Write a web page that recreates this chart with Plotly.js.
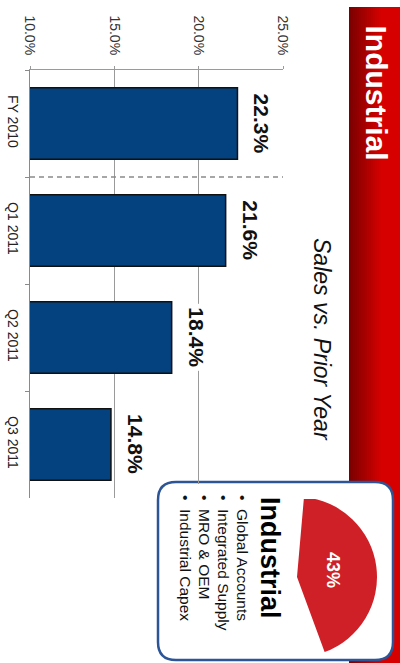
<!DOCTYPE html>
<html>
<head>
<meta charset="utf-8">
<script src="https://cdn.plot.ly/plotly-3.0.1.min.js"></script>
<style>
  html, body { margin: 0; padding: 0; background: #ffffff; }
  #chart { width: 400px; height: 663px; }
</style>
</head>
<body>
<div id="chart"></div>
<script>
// ---- data ----
const categories = ['FY 2010', 'Q1 2011', 'Q2 2011', 'Q3 2011'];
const salesGrowth = [22.3, 21.6, 18.4, 14.8];
const tickVals = [10, 15, 20, 25];
const tickText = ['10.0%', '15.0%', '20.0%', '25.0%'];
const mixLabels = ['Industrial', 'Other segments'];
const mixShare = [43, 57];
const segmentItems = ['Global Accounts', 'Integrated Supply', 'MRO & OEM', 'Industrial Capex'];
const panelTitle = 'Industrial';
const chartTitle = 'Sales vs. Prior Year';

// ---- page geometry helpers (pixels -> paper) ----
const W = 400, H = 663;
const px = v => v / W;
const py = v => 1 - v / H;

const FONT = 'Liberation Sans, Arial, sans-serif';

const shapes = [];
// red title band with horizontal gradient
const bandL = 349, bandFull = 381, bandR = 400, bandT = 7, bandB = 663;
const c0 = [122, 0, 0], c1 = [214, 0, 0];
const steps = 16;
for (let i = 0; i < steps; i++) {
  const x0 = bandL + (bandFull - bandL) * i / steps;
  const x1 = bandL + (bandFull - bandL) * (i + 1) / steps + 0.6;
  const t = (i + 0.5) / steps;
  const col = 'rgb(' + c0.map((c, k) => Math.round(c + (c1[k] - c) * t)).join(',') + ')';
  shapes.push({type: 'rect', xref: 'paper', yref: 'paper', layer: 'below',
    x0: px(x0), x1: px(x1), y0: py(bandB), y1: py(bandT),
    fillcolor: col, line: {width: 0}});
}
shapes.push({type: 'rect', xref: 'paper', yref: 'paper', layer: 'below',
  x0: px(bandFull), x1: px(bandR), y0: py(bandB), y1: py(bandT),
  fillcolor: 'rgb(214,0,0)', line: {width: 0}});

// rounded info box
function roundedBox(l, t, r, b, rad) {
  const P = (x, y) => px(x) + ',' + py(y);
  return 'M' + P(l + rad, t) + ' L' + P(r - rad, t) + ' Q' + P(r, t) + ' ' + P(r, t + rad) +
    ' L' + P(r, b - rad) + ' Q' + P(r, b) + ' ' + P(r - rad, b) +
    ' L' + P(l + rad, b) + ' Q' + P(l, b) + ' ' + P(l, b - rad) +
    ' L' + P(l, t + rad) + ' Q' + P(l, t) + ' ' + P(l + rad, t) + ' Z';
}
shapes.push({type: 'path', xref: 'paper', yref: 'paper', layer: 'below',
  path: roundedBox(158, 482, 393, 660, 18),
  fillcolor: '#ffffff', line: {color: '#2c5597', width: 2.5}});
// white mask so gridlines stop at the box edge
shapes.push({type: 'rect', xref: 'paper', yref: 'paper', layer: 'above',
  x0: px(178), x1: px(372), y0: py(499), y1: py(484),
  fillcolor: '#ffffff', line: {width: 0}});
// dashed separator between full year and quarters
shapes.push({type: 'line', xref: 'x', yref: 'y', layer: 'above',
  x0: tickVals[0], x1: tickVals[tickVals.length - 1], y0: 0.5, y1: 0.5,
  line: {color: '#8a8a8a', width: 1.3, dash: '5px,4px'}});

const annotations = [];
// value labels
salesGrowth.forEach((v, i) => {
  annotations.push({x: v, y: categories[i], xref: 'x', yref: 'y',
    text: '<b>' + v.toFixed(1) + '%</b>', showarrow: false, textangle: 90,
    xanchor: 'left', yanchor: 'middle', xshift: 9,
    bgcolor: '#ffffff', borderpad: 3,
    font: {family: FONT, size: 21, color: '#111111'}});
});
// band title
annotations.push({x: px(375.5), y: py(93), xref: 'paper', yref: 'paper',
  text: '<b>' + panelTitle + '</b>', showarrow: false, textangle: 90,
  xanchor: 'center', yanchor: 'middle',
  font: {family: FONT, size: 30, color: '#ffffff'}});
// chart title
annotations.push({x: px(322), y: py(339), xref: 'paper', yref: 'paper',
  text: '<i>' + chartTitle + '</i>', showarrow: false, textangle: 90,
  xanchor: 'center', yanchor: 'middle',
  font: {family: FONT, size: 23, color: '#111111'}});
// box heading
annotations.push({x: px(270), y: py(495), xref: 'paper', yref: 'paper',
  text: '<b>' + panelTitle + '</b>', showarrow: false, textangle: 90,
  xanchor: 'center', yanchor: 'top',
  font: {family: FONT, size: 27, color: '#000000'}});
// bullet list
const bulletX = [243, 224, 205, 186];
segmentItems.forEach((s, i) => {
  annotations.push({x: px(bulletX[i]), y: py(493), xref: 'paper', yref: 'paper',
    text: '•  ' + s, showarrow: false, textangle: 90,
    xanchor: 'center', yanchor: 'top',
    font: {family: FONT, size: 15.5, color: '#111111'}});
});
// pie percentage label
annotations.push({x: px(333), y: py(570), xref: 'paper', yref: 'paper',
  text: '<b>' + mixShare[0] + '%</b>', showarrow: false, textangle: 90,
  xanchor: 'center', yanchor: 'middle',
  font: {family: FONT, size: 18, color: '#ffffff'}});

const barTrace = {
  type: 'bar', orientation: 'h',
  x: salesGrowth, y: categories,
  width: 0.67,
  marker: {color: '#03427e', line: {color: '#111111', width: 1.5}},
  hoverinfo: 'skip', showlegend: false
};

const pieTrace = {
  type: 'pie', labels: mixLabels, values: mixShare,
  sort: false, direction: 'clockwise', rotation: 5,
  marker: {colors: ['#cf2028', 'rgba(0,0,0,0)'], line: {width: 0}},
  textinfo: 'none', hoverinfo: 'skip', showlegend: false,
  domain: {x: [px(217), px(377)], y: [py(657), py(497)]}
};

const layout = {
  width: W, height: H,
  margin: {l: 0, r: 0, t: 0, b: 0},
  paper_bgcolor: '#ffffff', plot_bgcolor: 'rgba(0,0,0,0)',
  showlegend: false,
  font: {family: FONT, color: '#222222'},
  xaxis: {
    domain: [px(30), px(283)], side: 'top', range: [tickVals[0], tickVals[tickVals.length - 1]],
    tickmode: 'array', tickvals: tickVals, ticktext: tickText, tickangle: 90,
    tickfont: {family: FONT, size: 14, color: '#333333'},
    showgrid: true, gridcolor: '#9a9a9a', gridwidth: 1,
    showline: true, linecolor: '#9a9a9a', linewidth: 1,
    ticks: 'outside', ticklen: 3, tickcolor: '#9a9a9a',
    ticklabelstandoff: 6, zeroline: false, fixedrange: true
  },
  yaxis: {
    domain: [py(498), py(70)], type: 'category', autorange: 'reversed',
    tickangle: 90, tickfont: {family: FONT, size: 14, color: '#222222'},
    showgrid: false, showline: true, linecolor: '#8a8a8a', linewidth: 1,
    ticks: 'outside', tickson: 'boundaries', ticklen: 4, tickcolor: '#8a8a8a',
    ticklabelstandoff: 4, zeroline: false, fixedrange: true
  },
  shapes: shapes,
  annotations: annotations
};

Plotly.newPlot('chart', [barTrace, pieTrace], layout, {displayModeBar: false, staticPlot: true});
</script>
</body>
</html>
